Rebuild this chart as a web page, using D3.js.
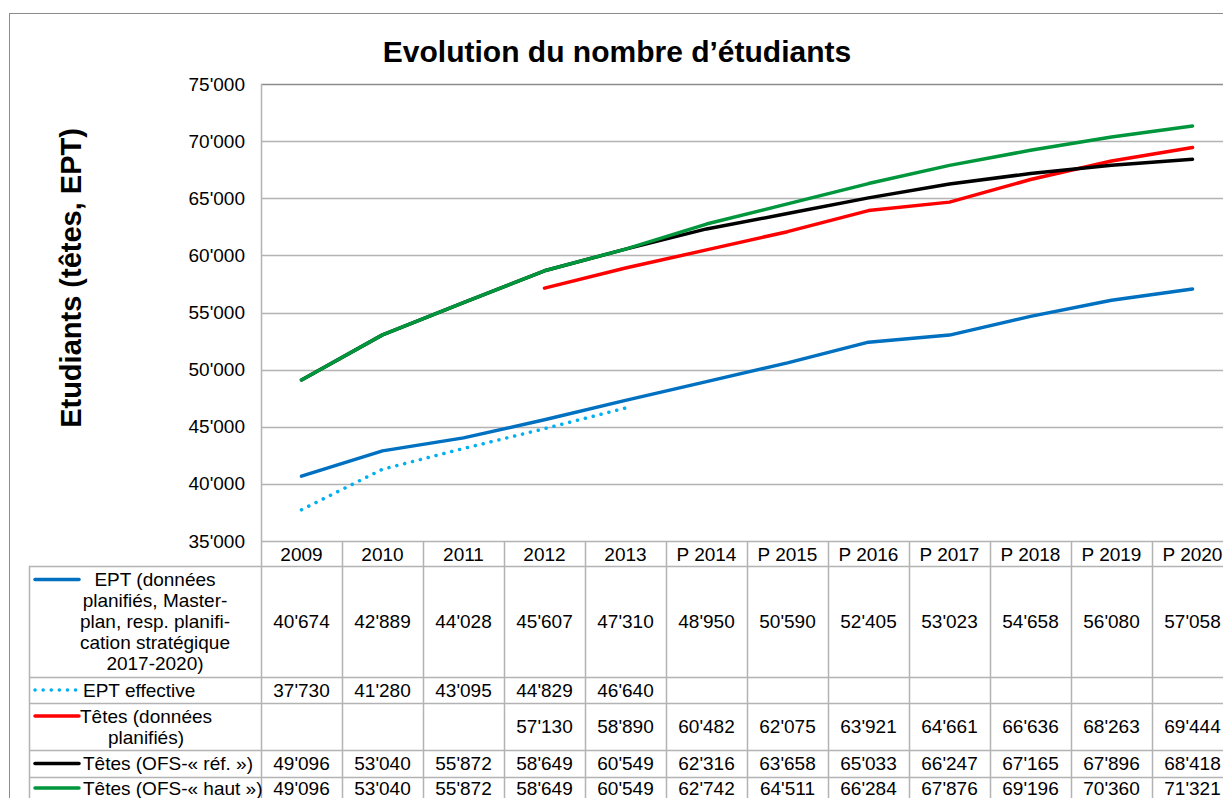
<!DOCTYPE html>
<html>
<head>
<meta charset="utf-8">
<script src="https://cdn.jsdelivr.net/npm/d3@7"></script>
<style>
  body { margin: 0; background: #fff; }
  text { font-family: "Liberation Sans", Arial, sans-serif; fill: #000; }
</style>
</head>
<body>
<svg id="chart" width="1223" height="798"></svg>
<script>
// data
const years = ["2009", "2010", "2011", "2012", "2013", "P 2014", "P 2015", "P 2016", "P 2017", "P 2018", "P 2019", "P 2020"];
const eptPlan = [40674, 42889, 44028, 45607, 47310, 48950, 50590, 52405, 53023, 54658, 56080, 57058];
const eptEff = [37730, 41280, 43095, 44829, 46640, null, null, null, null, null, null, null];
const tetesPlan = [null, null, null, 57130, 58890, 60482, 62075, 63921, 64661, 66636, 68263, 69444];
const ofsRef = [49096, 53040, 55872, 58649, 60549, 62316, 63658, 65033, 66247, 67165, 67896, 68418];
const ofsHaut = [49096, 53040, 55872, 58649, 60549, 62742, 64511, 66284, 67876, 69196, 70360, 71321];
const yTicks = [35000, 40000, 45000, 50000, 55000, 60000, 65000, 70000, 75000];

const series = [
  { name: ["EPT (données", "planifiés, Master-", "plan, resp. planifi-", "cation stratégique", "2017-2020)"], values: eptPlan, color: "#0070c0", dotted: false },
  { name: ["EPT effective"], values: eptEff, color: "#00b0f0", dotted: true },
  { name: ["Têtes (données", "planifiés)"], values: tetesPlan, color: "#ff0000", dotted: false },
  { name: ["Têtes (OFS-« réf. »)"], values: ofsRef, color: "#000000", dotted: false },
  { name: ["Têtes (OFS-« haut »)"], values: ofsHaut, color: "#00963c", dotted: false }
];

const svg = d3.select("#chart");
const gridColor = "#b3b3b3";
const fontSize = "19px";

const locale = d3.formatLocale({ decimal: ".", thousands: "'", grouping: [3], currency: ["", ""] });
const fmt = locale.format(",");

const plot = { left: 261, top: 84, bottom: 541, band: 81 };

const x = d3.scaleBand()
  .domain(years)
  .range([plot.left, plot.left + plot.band * years.length]);

const y = d3.scaleLinear()
  .domain([35000, 75000])
  .range([plot.bottom, plot.top]);

// outer frame
svg.append("rect")
  .attr("x", 9.5).attr("y", 13.5)
  .attr("width", 1240).attr("height", 800)
  .attr("fill", "none").attr("stroke", "#8c8c8c");

// titles
svg.append("text")
  .attr("x", 617).attr("y", 62)
  .attr("text-anchor", "middle")
  .style("font-size", "30px").style("font-weight", "bold")
  .text("Evolution du nombre d’étudiants");

svg.append("text")
  .attr("transform", "translate(81,278) rotate(-90)")
  .attr("text-anchor", "middle")
  .style("font-size", "29px").style("font-weight", "bold")
  .text("Etudiants (têtes, EPT)");

// gridlines
svg.append("g")
  .selectAll("line")
  .data(yTicks)
  .join("line")
  .attr("x1", plot.left).attr("x2", 1240)
  .attr("y1", d => Math.round(y(d)) + 0.5).attr("y2", d => Math.round(y(d)) + 0.5)
  .attr("stroke", d => d === 75000 ? "#8c8c8c" : gridColor)
  .attr("stroke-width", 1.5);

// y axis labels
const yAxis = svg.append("g")
  .attr("transform", "translate(" + plot.left + ",0)")
  .call(d3.axisLeft(y).tickValues(yTicks).tickFormat(fmt).tickSize(0).tickPadding(16));
yAxis.select(".domain").remove();
yAxis.selectAll("text")
  .style("font-family", "'Liberation Sans', Arial, sans-serif")
  .style("font-size", fontSize)
  .attr("fill", "#000");

// table
const rowBounds = [566, 677, 703, 750, 777, 799];
const tableLeft = 29;
const tableRight = plot.left + plot.band * years.length;
const table = svg.append("g").attr("stroke", gridColor).attr("stroke-width", 1.5);

rowBounds.forEach(b => {
  table.append("line").attr("x1", tableLeft).attr("x2", tableRight).attr("y1", b + 0.5).attr("y2", b + 0.5);
});
table.append("line").attr("x1", tableLeft + 0.5).attr("x2", tableLeft + 0.5).attr("y1", 566).attr("y2", 803);
table.selectAll(".vl")
  .data(years)
  .join("line")
  .attr("x1", d => x(d) + 0.5).attr("x2", d => x(d) + 0.5)
  .attr("y1", d => d === years[0] ? plot.top : plot.bottom)
  .attr("y2", 803);

svg.append("g")
  .selectAll("text")
  .data(years)
  .join("text")
  .attr("x", d => x(d) + x.bandwidth() / 2)
  .attr("y", 554)
  .attr("dy", "0.35em")
  .attr("text-anchor", "middle")
  .style("font-size", fontSize)
  .text(d => d);

// legend keys, names and values
const keyX = [35, 79];
const nameCenters = [155, null, 146, null, null];
series.forEach((s, i) => {
  const top = rowBounds[i], bottom = rowBounds[i + 1];
  const mid = (top + bottom) / 2;
  const lineH = 21;
  const first = mid - (s.name.length - 1) * lineH / 2;
  const key = svg.append("line")
    .attr("x1", keyX[0]).attr("x2", keyX[1])
    .attr("y1", first).attr("y2", first)
    .attr("stroke", s.color).attr("stroke-width", 3.5)
    .attr("stroke-linecap", "round");
  if (s.dotted) key.attr("stroke-dasharray", "0.1 8");

  s.name.forEach((t, j) => {
    const txt = svg.append("text")
      .attr("y", first + j * lineH)
      .attr("dy", "0.35em")
      .style("font-size", fontSize)
      .text(t);
    if (nameCenters[i] != null) txt.attr("x", nameCenters[i]).attr("text-anchor", "middle");
    else txt.attr("x", 83);
  });

  svg.append("g")
    .selectAll("text")
    .data(s.values.map((v, k) => ({ v: v, year: years[k] })).filter(d => d.v != null))
    .join("text")
    .attr("x", d => x(d.year) + x.bandwidth() / 2)
    .attr("y", mid)
    .attr("dy", "0.35em")
    .attr("text-anchor", "middle")
    .style("font-size", fontSize)
    .text(d => fmt(d.v));
});

// lines
const line = d3.line()
  .defined(d => d.v != null)
  .x(d => x(d.year) + x.bandwidth() / 2)
  .y(d => y(d.v));

series.forEach(s => {
  const pts = s.values.map((v, k) => ({ v: v, year: years[k] }));
  const path = svg.append("path")
    .datum(pts)
    .attr("d", line)
    .attr("fill", "none")
    .attr("stroke", s.color)
    .attr("stroke-width", 3.5)
    .attr("stroke-linejoin", "round")
    .attr("stroke-linecap", "round");
  if (s.dotted) path.attr("stroke-dasharray", "0.1 8");
});
</script>
</body>
</html>
